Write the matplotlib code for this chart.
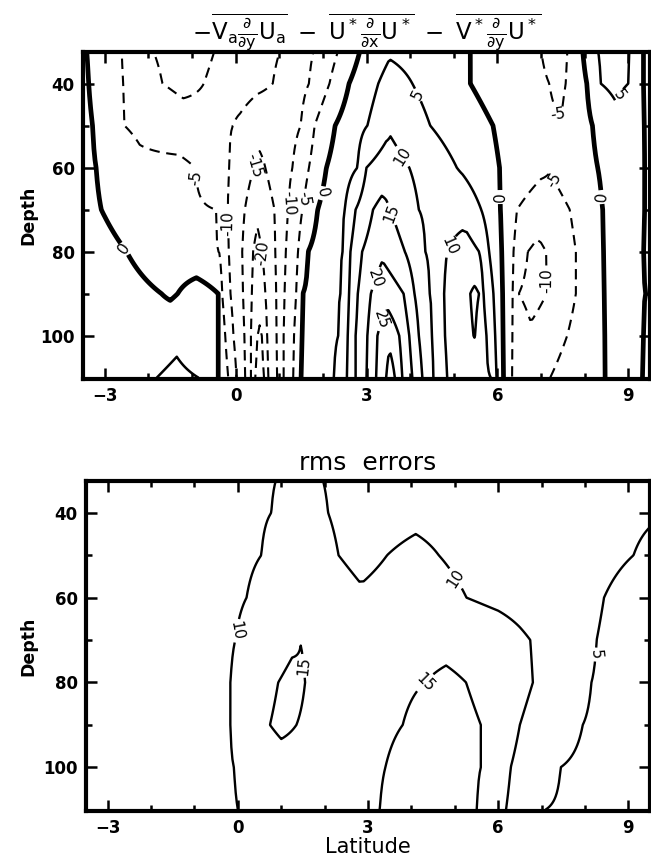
import numpy as np
import matplotlib
matplotlib.use("Agg")
import matplotlib.pyplot as plt
from matplotlib.ticker import MultipleLocator

plt.rcParams['font.family'] = ['DejaVu Sans']
plt.rcParams['mathtext.default'] = 'regular'

# ---------------- data ----------------
depths = [30, 40, 50, 60, 70, 80, 90, 100, 110]

# top panel: (latitude, value) readings along each depth level
adv_30 = [(-3.5, 1.5), (-3.43, 0), (-2.62, -5), (-2.0, -10), (-1.2, -12.5), (-0.42, -10), (0.3, -7.5),
          (1.1, -10), (1.45, -12), (1.85, -10), (2.42, -5), (2.9, 0), (3.5, 3.5), (4.5, 2.5), (5.38, 0),
          (6.2, -3), (6.98, -5), (7.3, -6.5), (7.63, -5), (7.94, 0), (8.24, 5), (8.6, 6.5), (9.05, 5),
          (9.35, 0), (9.5, -1)]
adv_40 = [(-3.5, 1), (-3.37, 0), (-2.58, -5), (-1.68, -10), (-1.2, -11), (-0.73, -10), (0.1, -7.5),
          (0.85, -10), (1.3, -12.5), (1.68, -10), (2.15, -5), (2.6, 0), (3.27, 5), (3.55, 7), (4.05, 5),
          (5.38, 0), (6.3, -3), (7.19, -5), (7.4, -5.8), (7.57, -5), (8.05, 0), (8.37, 5), (8.7, 6),
          (9.0, 5), (9.35, 0), (9.5, -1)]
adv_50 = [(-3.5, 1), (-3.28, 0), (-2.55, -5), (-1.3, -8), (-0.06, -10), (0.5, -13.5), (1.0, -13),
          (1.49, -10), (1.81, -5), (2.28, 0), (3.02, 5), (3.55, 9.3), (4.46, 5), (5.9, 0), (6.8, -4),
          (7.48, -4.8), (8.18, 0), (8.7, 3.5), (9.37, 0), (9.5, -1)]
adv_60 = [(-3.5, 1), (-3.2, 0), (-2.2, -4), (-1.3, -3.7), (-0.93, -5), (-0.15, -10), (0.42, -15),
          (0.55, -16), (0.68, -15), (1.3, -10), (1.68, -5), (2.08, 0), (2.79, 5), (3.0, 10), (3.45, 12.5),
          (3.98, 10), (5.07, 5), (6.05, 0), (7.2, -4.7), (8.3, 0), (8.8, 2), (9.38, 0), (9.5, -1.5)]
adv_70 = [(-3.5, 1), (-3.08, 0), (-1.5, -4), (-0.45, -5), (-0.18, -10), (0.21, -15), (0.5, -18.5),
          (0.89, -15), (1.2, -10), (1.53, -5), (1.88, 0), (2.5, 5), (2.75, 10), (3.15, 15), (3.35, 16.5),
          (3.55, 15), (4.2, 10), (4.7, 8.5), (5.2, 8.5), (5.63, 5), (6.07, 0), (6.45, -5), (7.0, -8),
          (7.66, -5), (8.41, 0), (8.9, 1.5), (9.38, 0), (9.5, -2)]
adv_80 = [(-3.5, 1.5), (-3.0, 1), (-2.5, 0), (-1.5, -3), (-0.38, -5), (-0.16, -10), (0.15, -15),
          (0.4, -20), (0.5, -22), (0.6, -20), (0.91, -15), (1.15, -10), (1.43, -5), (1.66, 0), (2.45, 5),
          (2.63, 10), (2.9, 15), (3.35, 19), (3.88, 15), (4.35, 10), (4.6, 9), (4.85, 10), (5.3, 12),
          (5.58, 10), (5.81, 5), (6.1, 0), (6.37, -5), (6.7, -10), (6.9, -11), (7.12, -10), (7.8, -5),
          (8.43, 0), (8.9, 1.5), (9.36, 0), (9.5, -2)]
adv_90 = [(-3.5, 2), (-2.5, 1.5), (-1.7, 0), (-1.5, -0.7), (-1.33, 0), (-0.9, 2.5), (-0.4, 0),
          (-0.31, -5), (-0.12, -10), (0.17, -15), (0.37, -20), (0.55, -23.5), (0.68, -20), (0.93, -15),
          (1.12, -10), (1.39, -5), (1.54, 0), (2.4, 5), (2.6, 10), (2.8, 15), (3.1, 20), (3.4, 23.5),
          (3.85, 20), (4.1, 15), (4.45, 10), (4.65, 9), (4.78, 10), (5.38, 15), (5.48, 16), (5.58, 15),
          (5.68, 10), (5.91, 5), (6.12, 0), (6.35, -5), (6.49, -10), (6.8, -12), (7.13, -10), (7.8, -5),
          (8.45, 0), (8.9, 1.5), (9.4, 0), (9.5, -2)]
adv_100 = [(-3.5, 2), (-2.0, 2.5), (-1.35, 4), (-0.9, 2), (-0.4, 0), (-0.24, -5), (-0.05, -10),
           (0.2, -15), (0.35, -20), (0.5, -25), (0.55, -25.5), (0.6, -25), (0.72, -20), (0.94, -15),
           (1.1, -10), (1.34, -5), (1.52, 0), (2.35, 5), (2.57, 10), (2.75, 15), (3.02, 20), (3.25, 25),
           (3.5, 28.5), (3.75, 25), (3.98, 20), (4.2, 15), (4.5, 10), (4.66, 9), (4.8, 10), (5.48, 15.2),
           (5.75, 10), (5.95, 5), (6.13, 0), (6.34, -5), (6.75, -9), (7.6, -5), (8.46, 0), (8.9, 1.5),
           (9.35, 0), (9.5, -2)]
adv_110 = [(-3.5, 2), (-2.5, 2.5), (-1.81, 5), (-1.35, 6), (-0.85, 5), (-0.4, 0), (-0.17, -5),
           (0.02, -10), (0.22, -15), (0.35, -20), (0.45, -25), (0.55, -28), (0.65, -25), (0.75, -20),
           (0.95, -15), (1.1, -10), (1.32, -5), (1.5, 0), (2.25, 5), (2.55, 10), (2.75, 15), (3.0, 20),
           (3.22, 25), (3.45, 30), (3.55, 33), (3.65, 30), (3.82, 25), (4.05, 20), (4.28, 15), (4.53, 10),
           (4.68, 8.5), (4.85, 10), (5.4, 12), (5.85, 10), (5.98, 5), (6.14, 0), (6.33, -5), (6.8, -8),
           (7.21, -5), (8.47, 0), (8.9, 1.5), (9.33, 0), (9.5, -2)]

# bottom panel (rms errors)
rms_30 = [(-3.5, 7), (-1.0, 8), (0.98, 10), (1.4, 11), (1.88, 10), (3.0, 8.5), (5.0, 8), (7.0, 7.5), (9.5, 5.5)]
rms_40 = [(-3.5, 7), (-1.0, 8), (0.77, 10), (1.4, 12), (2.08, 10), (3.0, 8.5), (4.1, 9.2), (5.5, 8.5),
          (7.5, 7.5), (9.5, 5.5)]
rms_50 = [(-3.5, 7), (-1.0, 8), (0.54, 10), (1.3, 12.5), (2.32, 10), (2.9, 9), (3.44, 10), (4.1, 10.8),
          (4.63, 10), (5.5, 9), (7.0, 7.5), (9.12, 5), (9.5, 4)]
rms_60 = [(-3.5, 7), (-1.0, 8), (0.2, 10), (1.3, 13), (2.8, 10.5), (4.0, 12), (5.27, 10), (6.5, 8.5),
          (8.44, 5), (9.5, 3)]
rms_70 = [(-3.5, 7), (-1.0, 8), (-0.06, 10), (1.45, 14.95), (3.0, 12.5), (4.8, 13.5), (6.0, 12),
          (6.74, 10), (7.5, 7.5), (8.27, 5), (9.5, 3)]
rms_80 = [(-3.5, 7), (-1.0, 8.5), (-0.17, 10), (0.93, 15), (1.25, 16), (1.55, 15), (2.8, 13), (4.31, 15),
          (4.8, 16), (5.26, 15), (6.1, 12.5), (6.8, 10), (7.5, 7.5), (8.15, 5), (9.5, 3)]
rms_90 = [(-3.5, 7), (-1.0, 8.5), (-0.17, 10), (0.74, 15), (1.0, 16), (1.35, 15), (2.5, 13), (3.8, 15),
          (4.7, 17.5), (5.6, 15), (6.0, 12.5), (6.5, 10), (7.2, 7.5), (7.95, 5), (9.5, 2.5)]
rms_100 = [(-3.5, 7), (-1.0, 8.5), (-0.09, 10), (1.0, 13), (2.3, 13.5), (3.4, 15), (4.5, 18), (5.6, 15),
           (5.95, 12.5), (6.29, 10), (6.9, 7.5), (7.44, 5), (9.5, 2.5)]
rms_110 = [(-3.5, 7), (-1.0, 8.5), (0.0, 10), (1.5, 12.5), (3.27, 15), (4.4, 18), (5.51, 15), (5.85, 12.5),
           (6.18, 10), (6.6, 7.5), (7.09, 5), (9.5, 2.5)]

neg_levels = [-30, -25, -20, -15, -10, -5]
zero_level = [0]
pos_levels = [5, 10, 15, 20, 25, 30, 35]
rms_levels = [5, 10, 15, 20]

xticks_major = [-3, 0, 3, 6, 9]
yticks_major = [40, 60, 80, 100]

top_title = (r"$-\overline{V_a\frac{\partial}{\partial y}U_a}\ -\ "
             r"\overline{U^*\frac{\partial}{\partial x}U^*}\ -\ "
             r"\overline{V^*\frac{\partial}{\partial y}U^*}$")
bottom_title = "rms  errors"

# ---------------- build grids for the contour routine ----------------
lat_grid = np.linspace(-3.5, 9.5, 521)


def to_grid(rows):
    return np.array([np.interp(lat_grid, [p[0] for p in r], [p[1] for p in r]) for r in rows])


Z_adv = to_grid([adv_30, adv_40, adv_50, adv_60, adv_70, adv_80, adv_90, adv_100, adv_110])
Z_rms = to_grid([rms_30, rms_40, rms_50, rms_60, rms_70, rms_80, rms_90, rms_100, rms_110])

# ---------------- figure ----------------
fig = plt.figure(figsize=(6.51, 8.6), dpi=100)
ax1 = fig.add_axes([0.1275, 0.5593, 0.871, 0.3802])
ax2 = fig.add_axes([0.1321, 0.0570, 0.8664, 0.3837])

cn = ax1.contour(lat_grid, depths, Z_adv, levels=neg_levels, colors='k', linewidths=1.5,
                 linestyles=[(0, (5, 3.2))])
c0 = ax1.contour(lat_grid, depths, Z_adv, levels=zero_level, colors='k', linewidths=3.4,
                 linestyles='solid')
cp = ax1.contour(lat_grid, depths, Z_adv, levels=pos_levels, colors='k', linewidths=1.8,
                 linestyles='solid')

lab_kw = dict(fmt='%d', fontsize=11, inline=True, inline_spacing=2)
ax1.clabel(cn, manual=[(-0.74, 62.2), (-0.2, 73.3), (0.42, 59.5), (0.56, 80.4), (1.21, 68.5),
                       (1.55, 67.3), (7.44, 48.7), (7.29, 63), (7.15, 86.8)], **lab_kw)
ax1.clabel(c0, manual=[(-2.58, 79.6), (1.95, 66), (6.07, 67), (8.4, 67)], **lab_kw)
ax1.clabel(cp, manual=[(4.12, 43), (3.81, 57.4), (3.39, 71.7), (3.25, 86.5), (3.3, 96),
                       (4.92, 78.8), (8.74, 42.3)], **lab_kw)

cr = ax2.contour(lat_grid, depths, Z_rms, levels=rms_levels, colors='k', linewidths=1.7,
                 linestyles='solid')
ax2.clabel(cr, manual=[(-0.03, 67.8), (4.94, 56), (1.5, 76.1), (4.32, 80.1), (8.23, 73.4)], **lab_kw)

for ax, ylab_x in ((ax1, -0.081), (ax2, -0.087)):
    ax.set_xlim(-3.5, 9.5)
    ax.set_ylim(110.3, 32.5)
    ax.set_xticks(xticks_major)
    ax.set_yticks(yticks_major)
    ax.xaxis.set_minor_locator(MultipleLocator(1))
    ax.yaxis.set_minor_locator(MultipleLocator(10))
    ax.tick_params(which='both', direction='in', top=True, right=True, width=1.8, color='k')
    ax.tick_params(which='major', length=8, pad=6)
    ax.tick_params(which='minor', length=4)
    for lab in ax.get_xticklabels() + ax.get_yticklabels():
        lab.set_fontweight('bold')
        lab.set_fontsize(12)
    for sp in ax.spines.values():
        sp.set_linewidth(3.0)
    ax.set_ylabel('Depth', fontsize=12.5, fontweight='bold')
    ax.yaxis.set_label_coords(ylab_x, 0.5)

ax1.set_title(top_title, fontsize=16.5, pad=3)
ax2.set_title(bottom_title, fontsize=18, pad=8)
ax2.set_xlabel('Latitude', fontsize=15, labelpad=0)

fig.savefig('out.png', dpi=100)
